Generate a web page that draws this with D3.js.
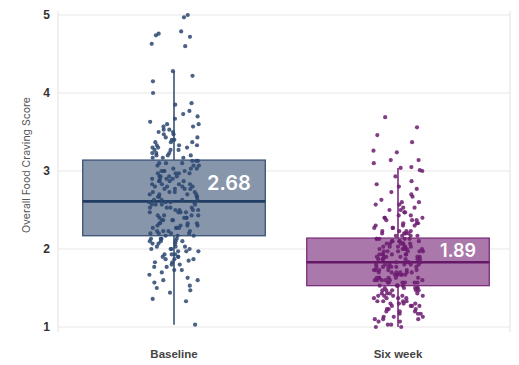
<!DOCTYPE html>
<html>
<head>
<meta charset="utf-8">
<script src="https://cdn.jsdelivr.net/npm/d3@7"></script>
<style>
  body { margin: 0; background: #fff; }
  svg { display: block; font-family: Inter, "Liberation Sans", sans-serif; }
</style>
</head>
<body>
<svg id="chart" width="519" height="365"></svg>
<script>
const categories = ['Baseline', 'Six week'];
const yTicks = [1, 2, 3, 4, 5];

// box stats: [low whisker, q1, median, q3, high whisker]
const baselineBox = [1.03, 2.17, 2.61, 3.14, 4.28];
const sixWeekBox = [1.0, 1.53, 1.83, 2.14, 3.04];
const meanLabels = ['2.68', '1.89'];

const baselineScores = [
  1.03, 1.33, 1.36, 1.44, 1.47, 1.5, 1.53, 1.57, 1.6, 1.6, 1.63, 1.67, 1.7, 1.73, 1.73, 1.77, 1.77,
  1.8, 1.8, 1.83, 1.83, 1.85, 1.87, 1.87, 1.87, 1.9, 1.9, 1.9, 1.93, 1.93, 1.93, 1.97, 1.97, 1.97,
  2.0, 2.0, 2.0, 2.0, 2.03, 2.03, 2.03, 2.07, 2.07, 2.07, 2.1, 2.1, 2.1, 2.1, 2.13, 2.13, 2.13, 2.13,
  2.17, 2.17, 2.17,
  2.2, 2.2, 2.2, 2.2, 2.23, 2.23, 2.23, 2.23, 2.27, 2.27, 2.27, 2.27, 2.3, 2.3, 2.3, 2.3,
  2.33, 2.33, 2.33, 2.33, 2.37, 2.37, 2.37, 2.37, 2.4, 2.4, 2.4, 2.4, 2.43, 2.43, 2.43, 2.43,
  2.47, 2.47, 2.47, 2.47, 2.5, 2.5, 2.5, 2.5, 2.53, 2.53, 2.53, 2.53, 2.57, 2.57, 2.57, 2.57,
  2.6, 2.6, 2.6, 2.6,
  2.63, 2.63, 2.63, 2.63, 2.67, 2.67, 2.67, 2.67, 2.7, 2.7, 2.7, 2.7, 2.73, 2.73, 2.73, 2.73,
  2.77, 2.77, 2.77, 2.77, 2.8, 2.8, 2.8, 2.8, 2.83, 2.83, 2.83, 2.83, 2.87, 2.87, 2.87, 2.87,
  2.9, 2.9, 2.9, 2.9, 2.93, 2.93, 2.93, 2.93, 2.97, 2.97, 2.97, 2.97, 3.0, 3.0, 3.0, 3.0,
  3.03, 3.03, 3.03, 3.07, 3.07, 3.07, 3.1, 3.1, 3.1, 3.13, 3.13, 3.13,
  3.17, 3.17, 3.17, 3.2, 3.2, 3.2, 3.23, 3.23, 3.23, 3.27, 3.27, 3.27, 3.3, 3.3, 3.3,
  3.33, 3.33, 3.33, 3.37, 3.37, 3.37, 3.4, 3.4, 3.43, 3.43, 3.47, 3.47, 3.5, 3.5, 3.53, 3.53,
  3.57, 3.57, 3.6, 3.6, 3.63, 3.67, 3.7, 3.73, 3.77, 3.85, 3.87, 4.0, 4.15, 4.22, 4.28,
  4.6, 4.63, 4.72, 4.74, 4.76, 4.79, 4.97, 5.0
];

const sixWeekScores = [
  1.0, 1.0, 1.03, 1.03, 1.07, 1.07, 1.1, 1.1, 1.1, 1.13, 1.13, 1.13, 1.17, 1.17, 1.17,
  1.2, 1.2, 1.2, 1.23, 1.23, 1.23, 1.27, 1.27, 1.27, 1.27, 1.3, 1.3, 1.3, 1.3,
  1.33, 1.33, 1.33, 1.33, 1.37, 1.37, 1.37, 1.37, 1.4, 1.4, 1.4, 1.4, 1.4,
  1.43, 1.43, 1.43, 1.43, 1.47, 1.47, 1.47, 1.47, 1.47, 1.5, 1.5, 1.5, 1.5, 1.5,
  1.53, 1.53, 1.53, 1.53, 1.53,
  1.57, 1.57, 1.57, 1.57, 1.57, 1.57, 1.6, 1.6, 1.6, 1.6, 1.6, 1.6, 1.63, 1.63, 1.63, 1.63, 1.63, 1.63,
  1.67, 1.67, 1.67, 1.67, 1.67, 1.67, 1.7, 1.7, 1.7, 1.7, 1.7, 1.7, 1.73, 1.73, 1.73, 1.73, 1.73, 1.73,
  1.77, 1.77, 1.77, 1.77, 1.77, 1.77, 1.8, 1.8, 1.8, 1.8, 1.8, 1.8, 1.83, 1.83, 1.83, 1.83, 1.83,
  1.87, 1.87, 1.87, 1.87, 1.87, 1.87, 1.9, 1.9, 1.9, 1.9, 1.9, 1.9, 1.93, 1.93, 1.93, 1.93, 1.93, 1.93,
  1.97, 1.97, 1.97, 1.97, 1.97, 1.97, 2.0, 2.0, 2.0, 2.0, 2.0, 2.0, 2.03, 2.03, 2.03, 2.03, 2.03, 2.03,
  2.07, 2.07, 2.07, 2.07, 2.07, 2.07, 2.1, 2.1, 2.1, 2.1, 2.1, 2.13, 2.13, 2.13, 2.13, 2.13,
  2.17, 2.17, 2.17, 2.17, 2.2, 2.2, 2.2, 2.2, 2.23, 2.23, 2.23, 2.23, 2.27, 2.27, 2.27,
  2.3, 2.3, 2.3, 2.33, 2.33, 2.33, 2.37, 2.37, 2.37, 2.4, 2.4, 2.4, 2.43, 2.43, 2.47, 2.47,
  2.5, 2.5, 2.53, 2.53, 2.57, 2.57, 2.6, 2.6, 2.63, 2.67, 2.7, 2.73, 2.77, 2.8, 2.83, 2.87,
  2.93, 3.0, 3.01, 3.04, 3.05, 3.1, 3.14, 3.14, 3.24, 3.26, 3.37, 3.46, 3.56, 3.69
];

const scores = [baselineScores, sixWeekScores];
const boxes = [baselineBox, sixWeekBox];
const palette = [
  { fill: '#8896ab', stroke: '#3a5275', median: '#223d63', dot: '#2c4670' },
  { fill: '#aa78ab', stroke: '#7c2e7e', median: '#651867', dot: '#6c1c70' }
];

const svg = d3.select('#chart');
const width = +svg.attr('width');
const margin = { top: 15, right: 9, bottom: 38, left: 58 };
const plotRight = width - margin.right;
const plotBottom = 327;

const x = d3.scaleBand().domain(categories).range([62, plotRight]).padding(0);
const y = d3.scaleLinear().domain([1, 5]).range([plotBottom, margin.top]);
const bw = x.bandwidth();
const boxW = bw * 0.815;
const jitterW = 25;

// fixed hash spread in [-0.5, 0.5) so the jitter is the same on every render
const spread = (i, seed) => {
  const s = Math.sin(i * 78.233 + seed * 12.9898) * 43758.5453;
  return s - Math.floor(s) - 0.5;
};

// gridlines
svg.append('g')
  .selectAll('line')
  .data(yTicks)
  .enter()
  .append('line')
  .attr('x1', margin.left)
  .attr('x2', plotRight)
  .attr('y1', (d) => y(d))
  .attr('y2', (d) => y(d))
  .attr('stroke', '#e8e8e8')
  .attr('stroke-width', 1.2);

// frame sides
[margin.left, plotRight].forEach((xx) => {
  svg.append('line')
    .attr('x1', xx).attr('x2', xx)
    .attr('y1', y(5) - 4).attr('y2', y(1) + 5)
    .attr('stroke', '#e6e6e6')
    .attr('stroke-width', 1.2);
});

// y axis
const yAxis = svg.append('g')
  .attr('transform', 'translate(' + margin.left + ',0)')
  .call(d3.axisLeft(y).tickValues(yTicks).tickFormat(d3.format('d')).tickSize(0).tickPadding(8));
yAxis.select('.domain').remove();
yAxis.selectAll('text')
  .attr('fill', '#333')
  .style('font-size', '12px')
  .style('font-weight', '600');

svg.append('text')
  .attr('transform', 'translate(30,' + 165 + ') rotate(-90)')
  .attr('text-anchor', 'middle')
  .attr('fill', '#555')
  .style('font-size', '10.5px')
  .text('Overall Food Craving Score');

// x axis labels
const xAxis = svg.append('g')
  .attr('transform', 'translate(0,' + 348 + ')')
  .call(d3.axisBottom(x).tickSize(0).tickPadding(0));
xAxis.select('.domain').remove();
xAxis.selectAll('text')
  .attr('fill', '#444')
  .attr('dy', '0.9em')
  .style('font-size', '11.5px')
  .style('font-weight', '600');

categories.forEach((cat, ci) => {
  const cx = x(cat) + bw / 2;
  const b = boxes[ci];
  const col = palette[ci];
  const g = svg.append('g').attr('class', 'box');

  g.append('rect')
    .attr('x', cx - boxW / 2)
    .attr('y', y(b[3]))
    .attr('width', boxW)
    .attr('height', y(b[1]) - y(b[3]))
    .attr('fill', col.fill)
    .attr('stroke', col.stroke)
    .attr('stroke-width', 1.3);

  g.append('line')
    .attr('x1', cx).attr('x2', cx)
    .attr('y1', y(b[0])).attr('y2', y(b[1]))
    .attr('stroke', col.stroke).attr('stroke-width', 1.6);
  g.append('line')
    .attr('x1', cx).attr('x2', cx)
    .attr('y1', y(b[3])).attr('y2', y(b[4]))
    .attr('stroke', col.stroke).attr('stroke-width', 1.6);

  g.append('line')
    .attr('x1', cx - boxW / 2).attr('x2', cx + boxW / 2)
    .attr('y1', y(b[2])).attr('y2', y(b[2]))
    .attr('stroke', col.median).attr('stroke-width', 2.6);

  g.selectAll('circle')
    .data(scores[ci])
    .enter()
    .append('circle')
    .attr('cx', (d, i) => cx + spread(i, ci + 1) * 2 * jitterW)
    .attr('cy', (d) => y(d))
    .attr('r', 2.1)
    .attr('fill', col.dot)
    .attr('fill-opacity', 0.85);
});

// mean labels
svg.append('text')
  .attr('x', x(categories[0]) + bw / 2 + 55)
  .attr('y', 190)
  .attr('text-anchor', 'middle')
  .attr('fill', '#fff')
  .style('font-size', '20px')
  .style('font-weight', '600')
  .text(meanLabels[0]);

svg.append('text')
  .attr('x', x(categories[1]) + bw / 2 + 60)
  .attr('y', 257)
  .attr('text-anchor', 'middle')
  .attr('fill', '#fff')
  .style('font-size', '18px')
  .style('font-weight', '600')
  .text(meanLabels[1]);
</script>
</body>
</html>
